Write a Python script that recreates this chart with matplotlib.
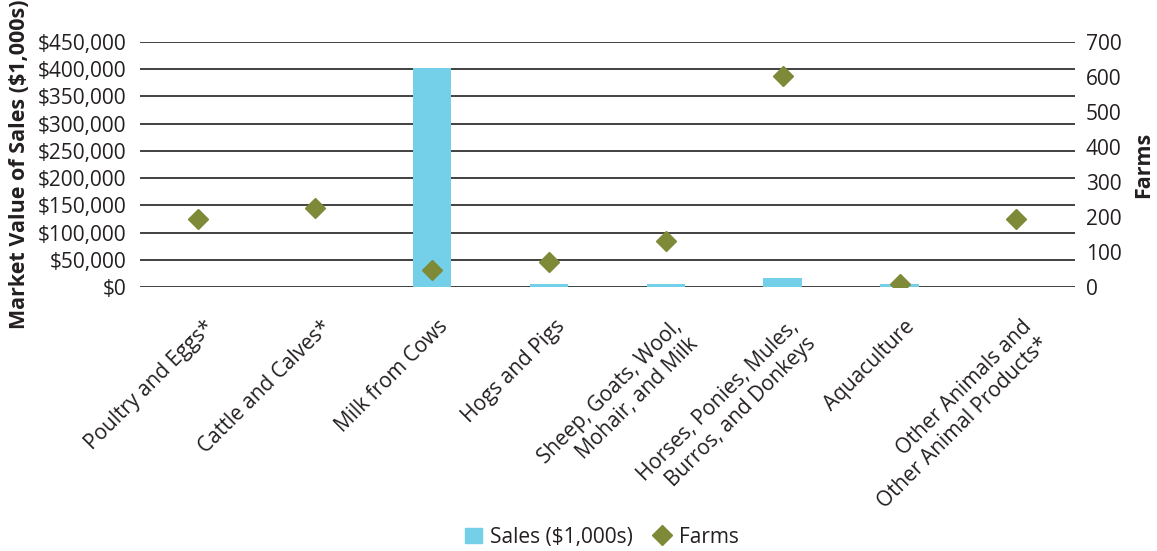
import matplotlib.pyplot as plt
from matplotlib.ticker import FuncFormatter, MultipleLocator
from matplotlib.transforms import ScaledTranslation
from matplotlib.lines import Line2D
from matplotlib.patches import Patch

plt.rcParams['font.family'] = ['Open Sans', 'DejaVu Sans']

categories = ['Poultry and Eggs*', 'Cattle and Calves*', 'Milk from Cows', 'Hogs and Pigs',
              'Sheep, Goats, Wool,\nMohair, and Milk', 'Horses, Ponies, Mules,\nBurros, and Donkeys',
              'Aquaculture', 'Other Animals and\nOther Animal Products*']
sales = [0, 0, 402000, 5500, 5500, 16500, 5000, 0]
farms = [193, 226, 49, 71, 131, 603, 9, 193]

bar_color = '#74cfe8'
diamond_color = '#7e8a38'
text_color = '#231f20'
grid_color = '#333333'

fig = plt.figure(figsize=(11.57, 5.51), dpi=100)
ax = fig.add_axes([0.121, 0.479, 0.808, 0.445])
ax2 = ax.twinx()

x = range(len(categories))
ax.bar(x, sales, width=0.33, color=bar_color, zorder=2)
ax2.plot(x, farms, linestyle='none', marker='D', markersize=10.5,
         color=diamond_color, zorder=3)

ax.set_xlim(-0.5, len(categories) - 0.5)
ax.set_ylim(0, 450000)
ax2.set_ylim(0, 700)
ax.yaxis.set_major_locator(MultipleLocator(50000))
ax2.yaxis.set_major_locator(MultipleLocator(100))
ax.yaxis.set_major_formatter(FuncFormatter(lambda v, p: f'${v:,.0f}'))

ax.grid(axis='y', color=grid_color, linewidth=1.3, zorder=0)
ax.set_axisbelow(True)
for a in (ax, ax2):
    for s in a.spines.values():
        s.set_visible(False)
    a.tick_params(length=0, labelsize=15, labelcolor=text_color)
ax.tick_params(axis='y', pad=10)
ax2.tick_params(axis='y', pad=8)

ax.set_xticks(list(x))
ax.set_xticklabels(categories, rotation=45, ha='right', va='top',
                   rotation_mode='anchor', multialignment='right', fontsize=15)
ax.tick_params(axis='x', pad=21)
offset = ScaledTranslation(5 / 100, 0, fig.dpi_scale_trans)
for lbl in ax.get_xticklabels():
    lbl.set_transform(lbl.get_transform() + offset)

ax.set_ylabel('Market Value of Sales ($1,000s)', fontsize=15.5, fontweight='bold',
              color=text_color, labelpad=5)
ax2.set_ylabel('Farms', fontsize=15.5, fontweight='bold', color=text_color, labelpad=8)

handles = [Patch(color=bar_color, label='Sales ($1,000s)'),
           Line2D([], [], linestyle='none', marker='D', markersize=10.5,
                  color=diamond_color, label='Farms')]
fig.legend(handles=handles, loc='center', bbox_to_anchor=(0.52, 0.025), ncol=2,
           frameon=False, fontsize=15, handlelength=0.8, handletextpad=0.4,
           columnspacing=1.0, labelcolor=text_color)

fig.savefig('out.png', dpi=100)
